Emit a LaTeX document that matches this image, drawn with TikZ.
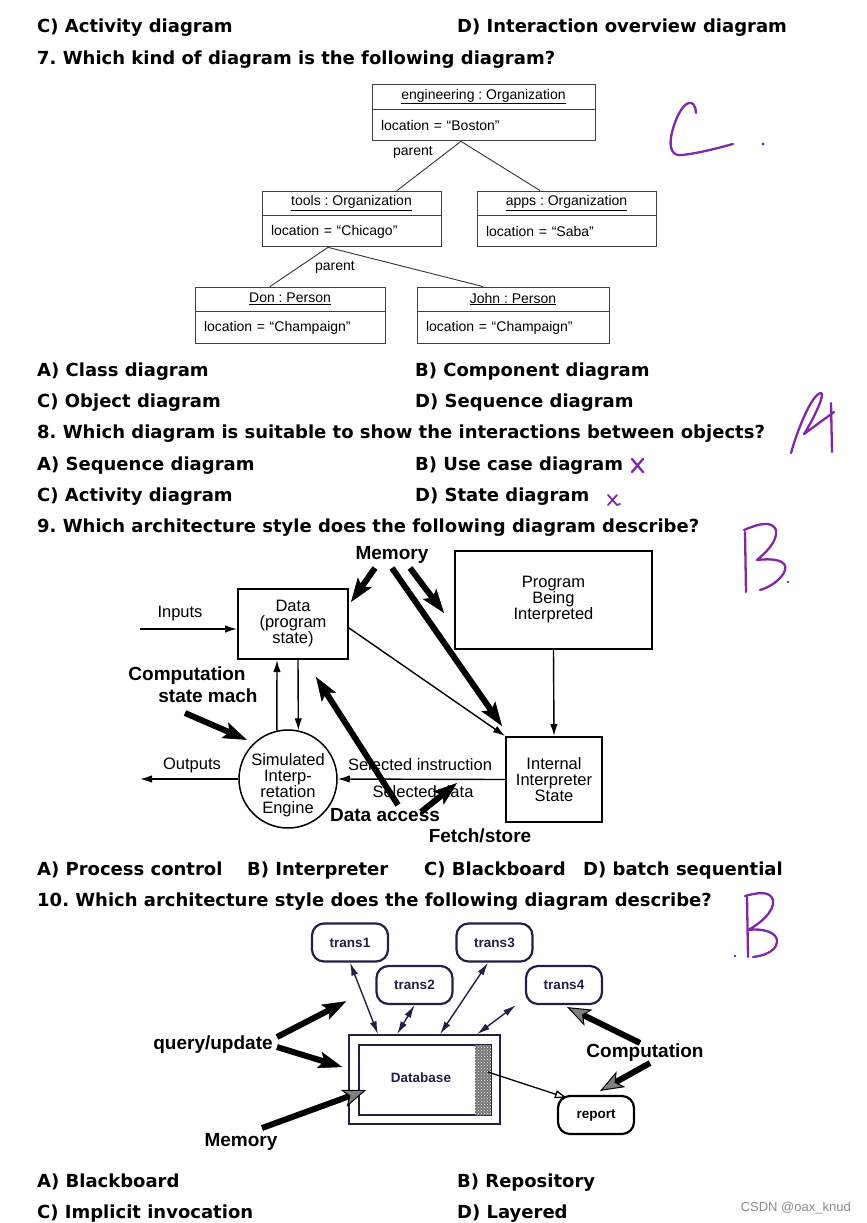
\documentclass[tikz,border=0pt]{standalone}
\usepackage{fontspec}
\usepackage{tikz}
\usetikzlibrary{arrows.meta, positioning, patterns}
\newfontfamily\verd{DejaVu Sans}
\newfontfamily\arial{Liberation Sans}
\definecolor{ink}{RGB}{128,40,170}
\definecolor{navy}{RGB}{32,32,72}
\definecolor{headgray}{RGB}{128,128,128}
\frenchspacing
\tikzset{
    question/.style = {anchor=base west, inner sep=0pt,
        font=\verd\bfseries\fontsize{18}{21}\selectfont},
    objhead/.style = {draw=black!75, line width=0.9pt, inner sep=0pt,
        font=\arial\fontsize{14}{16}\selectfont},
    objattr/.style = {objhead, align=left, inner xsep=9pt, minimum height=31pt},
    objline/.style = {draw=black!80, line width=0.9pt},
    objtext/.style = {inner sep=0pt, font=\arial\fontsize{14}{16}\selectfont},
    diagtext/.style = {inner sep=0pt, align=center,
        font=\arial\fontsize{16.5}{16}\selectfont},
    bigtext/.style = {inner sep=0pt, font=\arial\bfseries\fontsize{19}{20}\selectfont},
    box9/.style = {diagtext, draw, line width=2pt},
    thinarrow/.style = {line width=1.4pt, -{Latex[length=12pt,width=7.5pt]}},
    fatarrow/.style = {line width=6pt,
        -{Stealth[length=24pt,width=17pt,inset=5pt,line width=0.5pt]}},
    grayhead/.style = {line width=6pt,
        -{Stealth[length=24pt,width=18pt,inset=6pt,line width=1pt,fill=headgray]}},
    trans/.style = {draw=navy, rounded corners=12pt, line width=2.2pt,
        minimum width=76pt, minimum height=38pt, inner sep=0pt, text=navy,
        font=\arial\bfseries\fontsize{13.5}{15}\selectfont},
    dbbox/.style = {draw=navy, line width=1.5pt, inner sep=0pt},
    texture/.style = {fill=black!55, inner sep=0pt, minimum width=16pt, minimum height=70pt,
        postaction={pattern=crosshatch dots, pattern color=white}},
    dblink/.style = {navy, line width=1.4pt,
        {Latex[length=13pt,width=7pt]}-{Latex[length=13pt,width=7pt]}},
    pen/.style = {draw=ink, line width=2.3pt, line cap=round, line join=round},
}

\begin{document}
\begin{tikzpicture}[x=1pt,y=-1pt]
    \useasboundingbox (0,0) rectangle (867,1223);
    \fill[white] (0,0) rectangle (867,1223);

    % questions and answers
    \node[question] (q6c) at (37,33) {C) Activity diagram};
    \node[question] (q6d) at (457,33) {D) Interaction overview diagram};
    \node[question] (q7) at (37,65) {7. Which kind of diagram is the following diagram?};
    \node[question] (q7a) at (37,376.5) {A) Class diagram};
    \node[question] (q7b) at (415,376.5) {B) Component diagram};
    \node[question] (q7c) at (37,407.5) {C) Object diagram};
    \node[question] (q7d) at (415,407.5) {D) Sequence diagram};
    \node[question] (q8) at (37,438.5) {8. Which diagram is suitable to show the interactions between objects?};
    \node[question] (q8a) at (37,470.5) {A) Sequence diagram};
    \node[question] (q8b) at (415,470.5) {B) Use case diagram};
    \node[question] (q8c) at (37,501.5) {C) Activity diagram};
    \node[question] (q8d) at (415,501.5) {D) State diagram};
    \node[question] (q9) at (37,532.5) {9. Which architecture style does the following diagram describe?};
    \node[question] (q9a) at (37,875.5) {A) Process control};
    \node[question] (q9b) at (247,875.5) {B) Interpreter};
    \node[question] (q9c) at (424,875.5) {C) Blackboard};
    \node[question] (q9d) at (583,875.5) {D) batch sequential};
    \node[question] (q10) at (37,906.5) {10. Which architecture style does the following diagram describe?};
    \node[question] (q10a) at (37,1187.5) {A) Blackboard};
    \node[question] (q10b) at (457,1187.5) {B) Repository};
    \node[question] (q10c) at (37,1218.5) {C) Implicit invocation};
    \node[question] (q10d) at (457,1218.5) {D) Layered};

    % object diagram
    \node[objhead, minimum width=223pt, minimum height=25pt] (eng) at (483.5,96.5) {\underline{engineering : Organization}};
    \node[objattr, text width=205pt, below=0pt of eng] (engA) {location = “Boston”};
    \node[objhead, minimum width=179pt, minimum height=24pt] (tools) at (351.5,203) {\underline{tools : Organization}};
    \node[objattr, text width=161pt, below=0pt of tools] (toolsA) {location = “Chicago”};
    \node[objhead, minimum width=179pt, minimum height=24pt] (apps) at (566.5,203) {\underline{apps : Organization}};
    \node[objattr, text width=161pt, below=0pt of apps] (appsA) {location = “Saba”};
    \node[objhead, minimum width=190pt, minimum height=24pt] (don) at (290,299) {\underline{Don : Person}};
    \node[objattr, text width=172pt, minimum height=32pt, below=0pt of don] (donA) {location = “Champaign”};
    \node[objhead, minimum width=192pt, minimum height=24pt] (john) at (513,299) {\underline{John : Person}};
    \node[objattr, text width=174pt, minimum height=32pt, below=0pt of john] (johnA) {location = “Champaign”};
    \draw[objline] ([xshift=-22.5pt]engA.south) -- ([xshift=45.5pt]tools.north);
    \draw[objline] ([xshift=-22.5pt]engA.south) -- ([xshift=-26.5pt]apps.north);
    \draw[objline] ([xshift=-23.5pt]toolsA.south) -- ([xshift=-20pt]don.north);
    \draw[objline] ([xshift=-23.5pt]toolsA.south) -- ([xshift=-30pt]john.north);
    \node[objtext] (par1) at (413,152) {parent};
    \node[objtext] (par2) at (335,267) {parent};

    % interpreter
    \node[box9, minimum width=110pt, minimum height=70pt] (data) at (293,624) {Data\\(program\\state)};
    \node[box9, minimum width=197pt, minimum height=98pt] (prog) at (553.5,600) {Program\\Being\\Interpreted};
    \node[box9, minimum width=96pt, minimum height=85pt] (state) at (554,779.5) {Internal\\Interpreter\\State};
    \node[draw, circle, line width=1.5pt, minimum size=98pt, inner sep=0pt] (engine) at (288,779) {};
    \node[diagtext] (enginetxt) at (288,785) {Simulated\\Interp-\\retation\\Engine};
    \coordinate (inputs) at (140,629);
    \coordinate (outputs) at (140,779);
    \draw[thinarrow] (inputs) -- (data.west |- inputs);
    \draw[thinarrow] (engine.west) -- (outputs);
    \draw[thinarrow] (state.west) -- (engine.east);
    \draw[thinarrow] (engine.103) -- ([xshift=-16pt]data.south);
    \draw[thinarrow] ([xshift=5pt]data.south) -- (engine.78);
    \draw[thinarrow] ([yshift=-4pt]data.east) -- (state.north west);
    \draw[thinarrow] (prog.south) -- (state.north);
    \node[diagtext] (inlabel) at (180,614) {Inputs};
    \node[diagtext] (outlabel) at (192,765) {Outputs};
    \node[diagtext] (sinstr) at (420,765) {Selected instruction};
    \node[diagtext] (sdata) at (423,792) {Selected data};
    \node[bigtext] (mem) at (392,555) {Memory};
    \node[bigtext] (comp1) at (187,676) {Computation};
    \node[bigtext] (comp2) at (208,696) {state mach};
    \node[bigtext] (daccess) at (385,815) {Data access};
    \node[bigtext] (fetch) at (480,836) {Fetch/store};
    \coordinate (dtip) at (316,677);
    \coordinate (fs1) at (421,812);
    \coordinate (fs2) at (457,783);
    \draw[fatarrow] ([xshift=-17pt,yshift=-13pt]mem.center) -- ([xshift=2pt,yshift=-14pt]data.north east);
    \draw[fatarrow] ([xshift=0pt,yshift=-13pt]mem.center) -- ([xshift=-3pt,yshift=10pt]state.north west);
    \draw[fatarrow] ([xshift=18pt,yshift=-13pt]mem.center) -- ([xshift=-10pt,yshift=-13pt]prog.west);
    \draw[fatarrow] ([xshift=-23pt,yshift=-17pt]comp2.center) -- ([xshift=-6pt,yshift=4pt]engine.135);
    \draw[fatarrow] ([xshift=13pt,yshift=10pt]daccess.center) -- (dtip);
    \draw[fatarrow] (fs1) -- (fs2);

    % repository
    \node[trans] (t1) at (350,942.5) {trans1};
    \node[trans] (t2) at (414.5,985) {trans2};
    \node[trans] (t3) at (494.5,942.5) {trans3};
    \node[trans] (t4) at (564,985) {trans4};
    \node[trans, draw=black, text=black] (rep) at (596,1115) {report};
    \node[dbbox, minimum width=151pt, minimum height=89pt] (dbo) at (424.5,1079.5) {};
    \node[dbbox, minimum width=132pt, minimum height=70pt] (dbi) at (425,1080) {};
    \node[texture] (tex) at (483,1080) {};
    \node[inner sep=0pt, text=navy, font=\arial\bfseries\fontsize{13.5}{15}\selectfont] (dbtxt) at (421,1078) {Database};
    \draw[dblink] (t1.south) -- ([xshift=-46.5pt]dbo.north);
    \draw[dblink] (t2.south) -- ([xshift=-27.5pt]dbo.north);
    \draw[dblink] ([xshift=-6.5pt]t3.south) -- ([xshift=15.5pt]dbo.north);
    \draw[dblink] ([xshift=52.5pt]dbo.north) -- ([xshift=-9pt]t4.south west);
    \draw[line width=1.3pt, -{Triangle[open, length=12pt, width=8pt, fill=white]}] ([xshift=5pt,yshift=8pt]tex.center) -- ([xshift=10pt,yshift=-3pt]rep.north west);
    \node[bigtext] (qu) at (213,1045) {query/update};
    \node[bigtext] (mem2) at (241,1142) {Memory};
    \node[bigtext] (comp) at (645,1053) {Computation};
    \draw[fatarrow] ([xshift=64pt,yshift=8pt]qu.center) -- ([xshift=-2pt,yshift=33pt]dbo.north west);
    \draw[fatarrow] ([xshift=64pt,yshift=-2pt]qu.center) -- ([xshift=-6pt,yshift=12.5pt]dbo.west);
    \draw[grayhead] ([xshift=21pt,yshift=14pt]mem2.center) -- ([xshift=8pt,yshift=-10pt]dbi.west);
    \draw[grayhead] ([xshift=-5pt,yshift=10pt]comp.center) -- ([xshift=3pt,yshift=-2pt]t4.south);
    \draw[grayhead] ([xshift=5pt,yshift=-10pt]comp.center) -- ([xshift=4pt,yshift=4pt]rep.north);
    \node[anchor=east, inner sep=0pt, text=black!45, font=\arial\fontsize{13}{15}\selectfont] (mark) at (851,1208) {CSDN @oax\_knud};

    % handwritten answers
    \draw[pen] (696,113) .. controls (695,97) and (684,100) .. (676,120) .. controls (668,140) and (668,157) .. (682,155) .. controls (700,153) and (718,148) .. (733,144);
    \fill[ink] (763,144) circle (1.6);
    \draw[pen] (791,453) .. controls (798,428) and (812,394) .. (821,393) .. controls (826,393) and (812,422) .. (804,434) -- (834,412);
    \draw[pen] (831,403) -- (832,452);
    \draw[pen] (745,532) -- (746,592);
    \draw[pen] (744,530) .. controls (758,524) and (772,520) .. (776,530) .. controls (778,542) and (764,554) .. (757,560) .. controls (772,558) and (788,560) .. (785,570) .. controls (782,580) and (768,588) .. (760,590);
    \fill[ink] (788,582) circle (1.3);
    \draw[pen] (747,897) -- (748,957);
    \draw[pen] (745,896) .. controls (756,893) and (770,890) .. (773,900) .. controls (775,912) and (758,925) .. (748,930) .. controls (762,928) and (778,932) .. (777,942) .. controls (776,952) and (762,956) .. (753,957);
    \fill[ink] (735,956) circle (1.3);
    \draw[pen] (632,459) -- (643,472);
    \draw[pen] (643,459) -- (632,472);
    \draw[pen, line width=1.8pt] (608,495) -- (617,505) -- (620,504);
    \draw[pen, line width=1.8pt] (617,495) -- (608,505);
\end{tikzpicture}
\end{document}
